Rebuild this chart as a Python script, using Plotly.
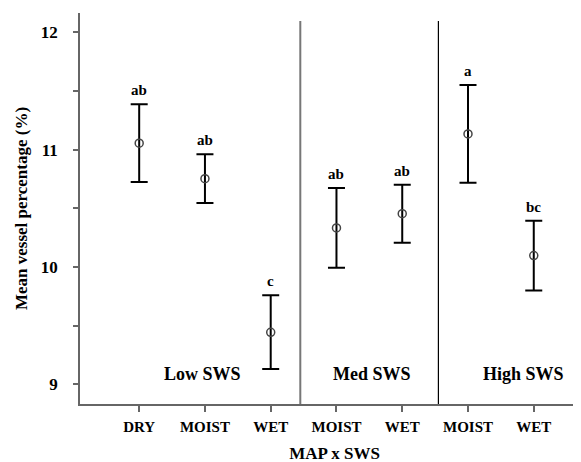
import plotly.graph_objects as go

# Data
tick_labels = ["DRY", "MOIST", "WET", "MOIST", "WET", "MOIST", "WET"]
means = [11.055, 10.753, 9.443, 10.333, 10.454, 11.134, 10.097]
upper = [11.387, 10.960, 9.760, 10.673, 10.702, 11.552, 10.395]
lower = [10.725, 10.546, 9.130, 9.994, 10.207, 10.719, 9.800]
letters = ["ab", "ab", "c", "ab", "ab", "a", "bc"]
groups = ["Low SWS", "Med SWS", "High SWS"]
group_centers = [0.97, 3.54, 5.84]
dividers = [2.45, 4.55]

xs = list(range(len(tick_labels)))
err_plus = [u - m for u, m in zip(upper, means)]
err_minus = [m - l for m, l in zip(means, lower)]

FONT = "Liberation Serif"

fig = go.Figure()
fig.add_trace(go.Scatter(
    x=xs, y=means, mode="markers",
    marker=dict(symbol="circle-open", size=8, color="#444444", line=dict(width=1.5)),
    error_y=dict(type="data", symmetric=False, array=err_plus, arrayminus=err_minus,
                 color="black", thickness=2, width=8.5),
    showlegend=False, hoverinfo="skip",
))

shapes = []
for i, d in enumerate(dividers):
    shapes.append(dict(type="line", xref="x", yref="y", x0=d, x1=d, y0=8.832, y1=12.096,
                       line=dict(color="#777777" if i == 0 else "black", width=2 if i == 0 else 1.2)))

annotations = []
for x, u, t in zip(xs, upper, letters):
    annotations.append(dict(x=x, y=u, text=f"<b>{t}</b>", showarrow=False, yanchor="middle",
                            yshift=14, font=dict(family=FONT, size=15, color="black")))
for gx, g in zip(group_centers, groups):
    annotations.append(dict(x=gx, y=9.09, text=f"<b>{g}</b>", showarrow=False, yanchor="middle",
                            font=dict(family=FONT, size=18, color="black")))

fig.update_layout(
    width=581, height=462,
    margin=dict(l=72, r=0, t=5, b=66),
    plot_bgcolor="white", paper_bgcolor="white",
    shapes=shapes, annotations=annotations,
    font=dict(family=FONT, color="black"),
    xaxis=dict(
        range=[-0.9, 6.84], tickvals=xs, ticktext=[f"<b>{t}</b>" for t in tick_labels],
        showgrid=False, zeroline=False, showline=True, linecolor="#666666", linewidth=1.5,
        ticks="outside", ticklen=6, tickcolor="#666666", tickwidth=1.5, automargin=False,
        ticklabelstandoff=2,
        tickfont=dict(family=FONT, size=15, color="black"),
        title=dict(text="<b>MAP x SWS</b>", font=dict(family=FONT, size=17, color="black"), standoff=13),
    ),
    yaxis=dict(
        range=[8.832, 12.165], tickvals=[9, 9.5, 10, 10.5, 11, 11.5, 12],
        ticktext=["<b>9</b>", "", "<b>10</b>", "", "<b>11</b>", "", "<b>12</b>"],
        showgrid=False, zeroline=False, showline=True, linecolor="#666666", linewidth=1.5,
        ticks="outside", ticklen=5, tickcolor="#666666", tickwidth=1.5, automargin=False,
        ticklabelstandoff=12,
        tickfont=dict(family=FONT, size=17, color="black"),
        title=dict(text="<b>Mean vessel percentage (%)</b>", font=dict(family=FONT, size=17, color="black"), standoff=9),
    ),
)

fig.write_html("out.html")
